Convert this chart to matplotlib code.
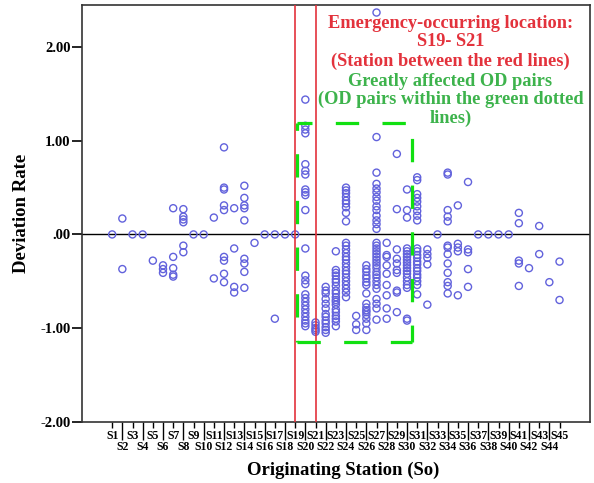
import matplotlib
matplotlib.use("Agg")
import matplotlib.pyplot as plt
from matplotlib.lines import Line2D

# deviation rate of every OD pair, grouped by originating station
upstream_dev = [  # S1 - S18
    [0.0],
    [0.17, -0.37],
    [0.0],
    [0.0],
    [-0.28],
    [-0.33, -0.37, -0.41],
    [0.28, -0.24, -0.36, -0.43, -0.45],
    [0.27, 0.19, 0.16, 0.13, -0.12, -0.19],
    [0.0],
    [0.0],
    [0.18, -0.47],
    [0.93, 0.50, 0.48, 0.31, 0.26, -0.24, -0.28, -0.42, -0.51],
    [0.28, -0.15, -0.56, -0.62],
    [0.52, 0.39, 0.31, 0.28, 0.15, -0.26, -0.31, -0.40, -0.57],
    [-0.09],
    [0.0],
    [0.0, -0.90],
    [0.0],
]
affected_dev = [  # S19 - S32
    [0.0],
    [1.44, 1.16, 1.12, 1.08, 0.75, 0.68, 0.64, 0.48, 0.45, 0.42, 0.26, -0.15, -0.44, -0.49,
     -0.53, -0.64, -0.68, -0.72, -0.76, -0.80, -0.84, -0.88, -0.92, -0.95, -0.98],
    [-0.94, -0.97, -1.00, -1.02, -1.04],
    [-0.56, -0.60, -0.63, -0.69, -0.74, -0.79, -0.85, -0.88, -0.92, -0.95, -0.99, -1.02, -1.05],
    [-0.18, -0.38, -0.41, -0.44, -0.48, -0.51, -0.55, -0.60, -0.63, -0.67, -0.70, -0.72, -0.75,
     -0.80, -0.83, -0.87, -0.90, -0.93, -0.98],
    [0.50, 0.47, 0.44, 0.40, 0.36, 0.33, 0.29, 0.23, 0.14, -0.09, -0.12, -0.16, -0.20, -0.24,
     -0.27, -0.31, -0.35, -0.39, -0.42, -0.46, -0.50, -0.54, -0.58, -0.62, -0.67],
    [-0.87, -0.96, -1.02],
    [-0.33, -0.37, -0.40, -0.44, -0.47, -0.51, -0.54, -0.63, -0.74, -0.78, -0.81, -0.83, -0.86,
     -0.90, -0.95, -1.02],
    [2.37, 1.04, 0.66, 0.54, 0.49, 0.45, 0.40, 0.36, 0.30, 0.26, 0.20, 0.15, 0.11, 0.06, -0.09,
     -0.12, -0.15, -0.18, -0.21, -0.24, -0.27, -0.30, -0.33, -0.36, -0.40, -0.43, -0.46, -0.50,
     -0.54, -0.58, -0.69, -0.74, -0.79, -0.91],
    [-0.09, -0.22, -0.24, -0.33, -0.42, -0.54, -0.65, -0.79, -0.90],
    [0.86, 0.27, -0.16, -0.26, -0.31, -0.38, -0.41, -0.60, -0.62, -0.83],
    [0.48, 0.26, 0.18, -0.15, -0.18, -0.21, -0.24, -0.27, -0.30, -0.33, -0.36, -0.39, -0.42,
     -0.46, -0.50, -0.54, -0.57, -0.90, -0.92],
    [0.61, 0.58, 0.43, 0.39, 0.35, 0.30, 0.25, 0.20, 0.15, -0.15, -0.18, -0.22, -0.25, -0.29,
     -0.32, -0.36, -0.39, -0.43, -0.46, -0.50, -0.54, -0.64],
    [-0.16, -0.21, -0.25, -0.32, -0.75],
]
downstream_dev = [  # S33 - S45
    [0.0],
    [0.66, 0.64, 0.26, 0.19, 0.14, -0.12, -0.14, -0.21, -0.31, -0.41, -0.51, -0.55, -0.63],
    [0.31, -0.10, -0.14, -0.18, -0.65],
    [0.56, -0.16, -0.19, -0.37, -0.56],
    [0.0],
    [0.0],
    [0.0],
    [0.0],
    [0.23, 0.12, -0.28, -0.31, -0.55],
    [-0.36],
    [0.09, -0.21],
    [-0.51],
    [-0.29, -0.70],
]

emergency_stations = [19, 21]
affected_box = (19.17, 30.49, -1.15, 1.19)  # x0, x1, y0, y1
yticks = [2, 1, 0, -1, -2]
ytick_labels = ["2.00", "1.00", ".00", "-1.00", "-2.00"]
red_notes = ["Emergency-occurring location:", "S19- S21", "(Station between the red lines)"]
green_notes = ["Greatly affected OD pairs", "(OD pairs within the green dotted", "lines)"]

RED = "#e3323c"
GREEN_TXT = "#3db34c"
GREEN_LINE = "#11e011"
BLUE = "#6262dc"

plt.rcParams["font.family"] = ["Liberation Serif", "DejaVu Serif"]
plt.rcParams["font.weight"] = "bold"

all_dev = upstream_dev + affected_dev + downstream_dev
xs, ys = [], []
for i, vals in enumerate(all_dev):
    for v in vals:
        xs.append(i + 1)
        ys.append(v)
n_st = len(all_dev)

fig = plt.figure(figsize=(5.94, 4.83), dpi=100)
ax = fig.add_axes([0.1375, 0.1269, 0.8558, 0.8627])

ax.axhline(0, color="black", lw=1.0, zorder=1)
ax.scatter(xs, ys, s=26, facecolors="none", edgecolors=BLUE, linewidths=1.0, zorder=3)
for st in emergency_stations:
    ax.axvline(st, color=RED, lw=1.2, zorder=4)

# green dashed box, each side with its own dash phase
x0, x1, y0, y1 = affected_box
sides = [((x0, x1), (y0, y0), 0.0), ((x1, x1), (y1, y0), 22.5),
         ((x0, x1), (y1, y1), 6.0), ((x0, x0), (y1, y0), 11.5)]
for sx, sy, off in sides:
    ax.add_line(Line2D(sx, sy, color=GREEN_LINE, lw=2.3, zorder=5,
                       linestyle=(off / 2.3, (16.8 / 2.3, 16.8 / 2.3))))

ax.set_xlim(-2, 48)
ax.set_ylim(-2, 2.45)

odd = list(range(1, n_st + 1, 2))
even = list(range(2, n_st + 1, 2))
ax.set_xticks(odd, [f"S{i}" for i in odd])
ax.set_xticks(even, [f"S{i}" for i in even], minor=True)
ax.tick_params(axis="x", which="major", length=4.5, width=1, pad=1.5, labelsize=8.5)
ax.tick_params(axis="x", which="minor", length=13, width=1, pad=0.8, labelsize=8.5)
ax.set_yticks(yticks, ytick_labels)
ax.tick_params(axis="y", length=7, width=1.2, labelsize=10.5, pad=1)
for lab in ax.get_xticklabels(minor=True) + ax.get_xticklabels() + ax.get_yticklabels():
    lab.set_fontweight("bold")

for sp in ax.spines.values():
    sp.set_color("#333333")
    sp.set_linewidth(1.2)

ax.set_ylabel("Deviation Rate", fontsize=13.5, fontweight="bold")
ax.yaxis.set_label_coords(-0.118, 0.5)
ax.set_xlabel("Originating Station (So)", fontsize=13.5, fontweight="bold")
ax.xaxis.set_label_coords(0.514, -0.116)
ax.xaxis.label.set_va("center")
ax.yaxis.label.set_va("center")

note_y = [24, 42, 61, 81, 99.5, 118.5]
for txt, yy, col in zip(red_notes + green_notes, note_y, [RED] * 3 + [GREEN_TXT] * 3):
    fig.text(450.5 / 594, 1 - yy / 483, txt, color=col, fontsize=13.2, fontweight="bold",
             ha="center", va="center", zorder=6)

fig.savefig("out.png", dpi=100)
